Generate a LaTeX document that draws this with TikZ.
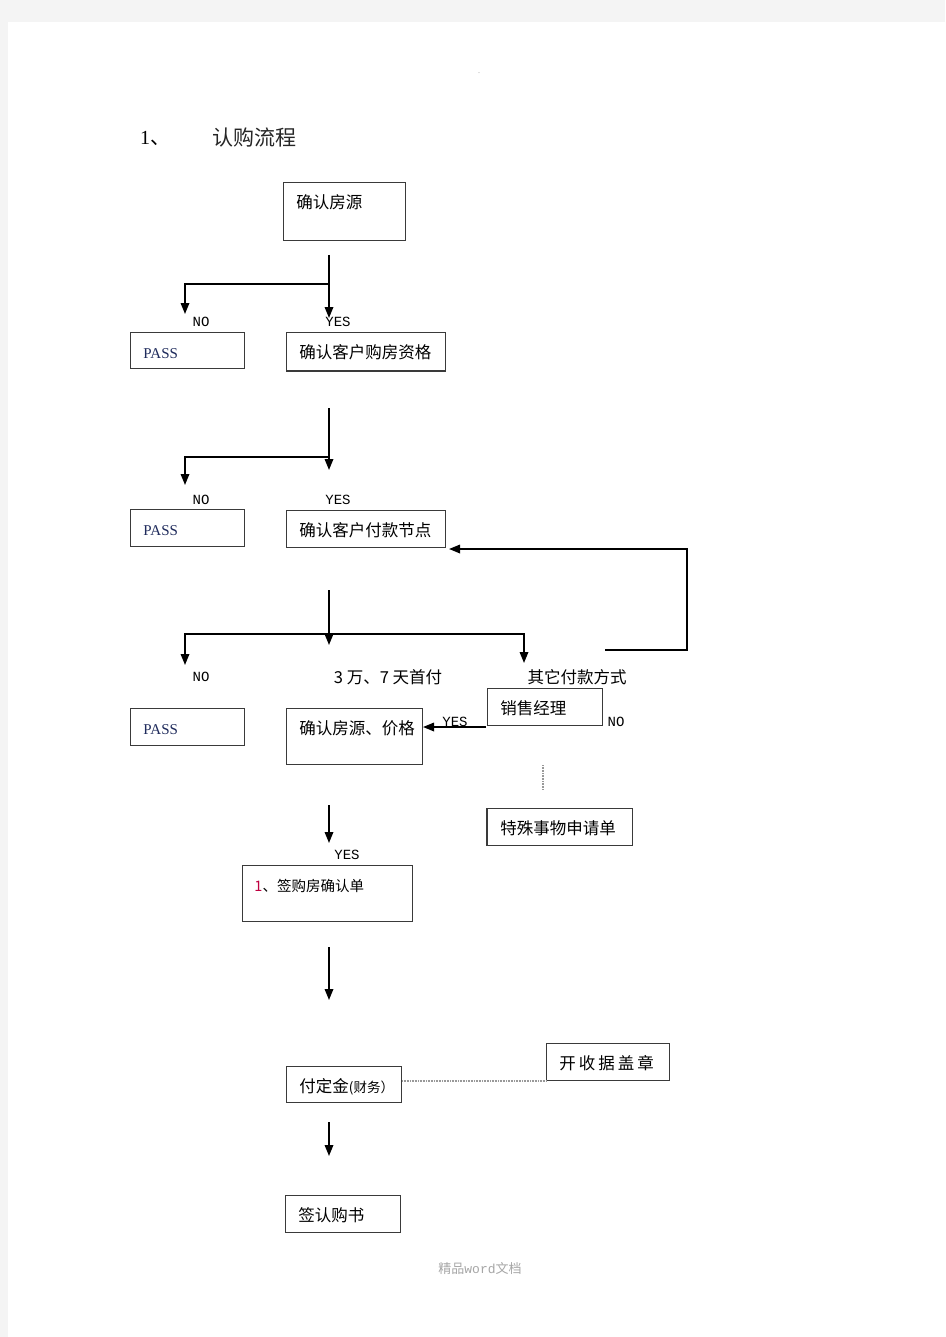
\documentclass[tikz,border=0pt]{standalone}
\usepackage{fontspec}
\setmainfont{Liberation Serif}
\setmonofont{Liberation Mono}
\newfontfamily\cjk{Noto Sans CJK SC}
\usetikzlibrary{arrows.meta}

\definecolor{pagegray}{HTML}{F4F4F4}
\definecolor{boxline}{HTML}{3A3A3A}
\definecolor{passblue}{HTML}{1F2B5C}

\begin{document}
\begin{tikzpicture}[
    x=1pt, y=-1pt,
    >={Triangle[length=11pt,width=8.5pt]},
    font=\cjk\fontsize{16.5}{19}\selectfont,
    box/.style={draw=boxline, line width=0.9pt, anchor=north west, align=left,
      inner xsep=13pt, inner ysep=0pt, text height=26pt, text depth=11pt},
    tall/.style={box, text depth=31pt},
    pass/.style={box, text width=88pt, font=\rmfamily\fontsize{15}{17}\selectfont, text=passblue},
    flow/.style={->, line width=1.7pt},
    stem/.style={line width=1.7pt},
    yn/.style={font=\ttfamily\fontsize{14}{16}\selectfont, inner sep=0pt},
    tag/.style={inner sep=0pt},
    dotline/.style={draw=black!40, line width=1.6pt, dash pattern=on 0.8pt off 0.8pt}
  ]

  % --- Page ---
  \fill[pagegray] (0,0) rectangle (945,1337);
  \fill[white] (8,22) rectangle (945,1337);
  \useasboundingbox (0,0) rectangle (945,1337);

  \node[tag, text=black!40, font=\fontsize{8}{8}\selectfont] (dot) at (479,73) {.};
  \node[tag, font=\rmfamily\fontsize{20}{24}\selectfont] (num) at (155,138) {1{\cjk 、}};
  \node[tag, font=\cjk\fontsize{21}{24}\selectfont, text=black!85] (title) at (254,138) {认购流程};

  % --- Boxes ---
  \node[tall, text width=96pt, text depth=32pt] (src) at (283,182) {确认房源};
  \node[box, text width=133pt, text depth=12pt] (qual) at (286,332) {确认客户购房资格};
  \node[pass, text depth=10pt] (pass1) at (130,332) {PASS};
  \node[box, text width=133pt] (pay) at (286,510) {确认客户付款节点};
  \node[pass] (pass2) at (130,509) {PASS};
  \node[pass] (pass3) at (130,708) {PASS};
  \node[tall, text width=110pt, text depth=30pt] (price) at (286,708) {确认房源、价格};
  \node[box, text width=89pt] (mgr) at (487,688) {销售经理};
  \node[box, text width=119pt] (special) at (487,808) {特殊事物申请单};
  \node[tall, text width=146pt, inner xsep=12pt, text depth=30pt,
    font=\cjk\fontsize{14.5}{17}\selectfont] (confirm) at (242,865) {\textcolor{purple}{1}、签购房确认单};
  \node[box, text width=89pt, text depth=10pt] (deposit) at (286,1066)
    {付定金{\fontsize{13.5}{15}\selectfont(财务）}};
  \node[box, text width=97pt] (receipt) at (546,1043)
    {开\hspace{3pt}收\hspace{3pt}据\hspace{3pt}盖\hspace{3pt}章};
  \node[box, text width=89pt] (sign) at (285,1195) {签认购书};

  % heavier edges
  \draw[boxline, line width=2pt] (qual.south west) -- (qual.south east);
  \draw[boxline, line width=2pt] (special.north west) -- (special.south west);

  % --- Labels ---
  \node[yn] (no1) at (201,322) {NO};
  \node[yn] (yes1) at (338,322) {YES};
  \node[yn] (no2) at (201,500) {NO};
  \node[yn] (yes2) at (338,500) {YES};
  \node[yn] (no3) at (201,677) {NO};
  \node[tag] (fast) at (388,677) {3 万、7 天首付};
  \node[tag] (other) at (577,677) {其它付款方式};
  \node[yn] (yes3) at (455,722) {YES};
  \node[yn] (no4) at (616,722) {NO};
  \node[yn] (yes4) at (347,855) {YES};

  \node[tag, text=black!35, font=\cjk\fontsize{13}{15}\selectfont] (foot) at (480,1268) {精品{\ttfamily word}文档};

  % --- Arrows ---
  % from src
  \coordinate (s1) at (329,255);
  \coordinate (k1) at (329,284);
  \coordinate (e1) at (329,318);
  \coordinate (n1) at (185,314);
  \draw[stem] (s1) -- (k1);
  \draw[flow] (k1) -- (e1);
  \draw[flow] (k1) -| (n1);

  % from qual
  \coordinate (s2) at (329,408);
  \coordinate (k2) at (329,457);
  \coordinate (e2) at (329,470);
  \coordinate (n2) at (185,485);
  \draw[stem] (s2) -- (k2);
  \draw[flow] (k2) -- (e2);
  \draw[flow] (k2) -| (n2);

  % from pay
  \coordinate (s3) at (329,590);
  \coordinate (k3) at (329,634);
  \coordinate (e3) at (329,645);
  \coordinate (n3) at (185,665);
  \coordinate (o3) at (524,663);
  \draw[stem] (s3) -- (k3);
  \draw[flow] (k3) -- (e3);
  \draw[flow] (k3) -| (n3);
  \draw[flow] (k3) -| (o3);

  % back to pay
  \coordinate (f1) at (605,650);
  \coordinate (f2) at (687,650);
  \coordinate (r1) at (449,549);
  \draw[flow] (f1) -- (f2) |- (r1);

  % mgr -> price
  \coordinate (m1) at (486,727);
  \coordinate (m2) at (423,727);
  \draw[flow] (m1) -- (m2);

  \coordinate (d1) at (543,765);
  \coordinate (d2) at (543,790);
  \draw[dotline] (d1) -- (d2);

  \coordinate (s4) at (329,805);
  \coordinate (e4) at (329,843);
  \draw[flow] (s4) -- (e4);

  \coordinate (s5) at (329,947);
  \coordinate (e5) at (329,1000);
  \draw[flow] (s5) -- (e5);

  \draw[dotline] (deposit.east |- receipt.south west) -- (receipt.south west);

  \coordinate (s6) at (329,1122);
  \coordinate (e6) at (329,1156);
  \draw[flow] (s6) -- (e6);

\end{tikzpicture}
\end{document}
